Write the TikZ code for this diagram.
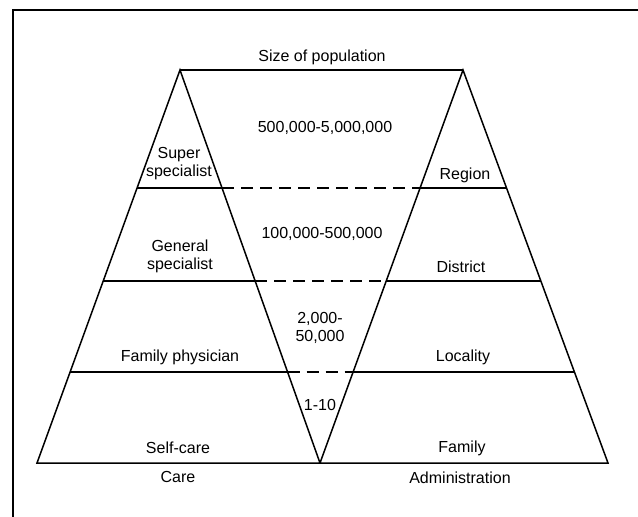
\documentclass[tikz,border=0pt]{standalone}
\usepackage{fontspec}
\setmainfont{Liberation Sans}
\usetikzlibrary{calc}

\begin{document}
\begin{tikzpicture}
	[x=1pt,y=-1pt,line width=1.5pt,
		lbl/.style={font=\fontsize{16}{18}\selectfont,align=center,inner sep=0pt},
		gap/.style={dash pattern=on 12pt off 7pt}]

	\useasboundingbox (0,0) rectangle (638,517);

	% frame
	\coordinate (F0) at (13,517);
	\coordinate (F1) at (13,10);
	\coordinate (F2) at (638,10);
	\draw (F0) -- (F1) -- (F2);

	% the two pyramids
	\coordinate (LA) at (180,70);
	\coordinate (LB) at (37,463);
	\coordinate (M)  at (320,463);
	\coordinate (RA) at (463,70);
	\coordinate (RB) at (608,463);

	\draw (LA) -- (LB) -- (M) -- cycle;
	\draw (RA) -- (M) -- (RB) -- cycle;
	\draw (LA) -- (RA);

	\foreach \t [count=\i] in {0.3003,0.5369,0.7684} {
		\coordinate (L\i a) at ($(LA)!\t!(LB)$);
		\coordinate (L\i b) at ($(LA)!\t!(M)$);
		\coordinate (R\i a) at ($(RA)!\t!(M)$);
		\coordinate (R\i b) at ($(RA)!\t!(RB)$);
		\draw (L\i a) -- (L\i b);
		\draw[gap] (L\i b) -- (R\i a);
		\draw (R\i a) -- (R\i b);
	}

	\node[lbl] (pop)      at (322,57)  {Size of population};
	\node[lbl] (big)      at (325,128) {500,000-5,000,000};
	\node[lbl] (super)    at (179,164) {Super\\specialist};
	\node[lbl] (region)   at (465,175) {Region};
	\node[lbl] (mid)      at (322,234) {100,000-500,000};
	\node[lbl] (general)  at (180,256) {General\\specialist};
	\node[lbl] (district) at (461,267) {District};
	\node[lbl] (small)    at (320,328) {2,000-\\50,000};
	\node[lbl] (physician) at (180,357) {Family physician};
	\node[lbl] (locality) at (463,357) {Locality};
	\node[lbl] (tiny)     at (320,405) {1-10};
	\node[lbl] (selfcare) at (178,448) {Self-care};
	\node[lbl] (family)   at (462,448) {Family};
	\node[lbl] (care)     at (178,477) {Care};
	\node[lbl] (admin)    at (460,478) {Administration};

\end{tikzpicture}
\end{document}
